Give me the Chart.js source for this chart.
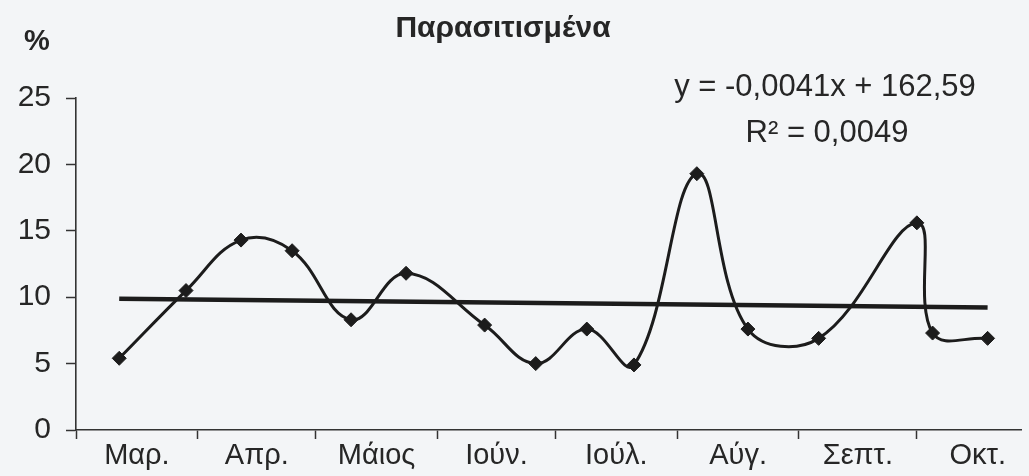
<!DOCTYPE html>
<html>
<head>
<meta charset="utf-8">
<script src="https://cdn.jsdelivr.net/npm/chart.js@4.4.1/dist/chart.umd.min.js"></script>
<style>
  html, body { margin: 0; padding: 0; background: #f3f5f7; }
  canvas { display: block; }
</style>
</head>
<body>
<canvas id="chart" width="1029" height="476"></canvas>
<script>
// Month names shown under the axis, and the day (counted from 1 March) on which each month starts
const monthNames = ['Μαρ.', 'Απρ.', 'Μάιος', 'Ιούν.', 'Ιούλ.', 'Αύγ.', 'Σεπτ.', 'Οκτ.'];
const monthStartDay = [0, 31, 61, 92, 122, 153, 184, 214, 245];

// Sampling dates (days from 1 March) and parasitised share in %
const sampleDay   = [11, 28, 42, 55, 70, 84, 104, 117, 130, 142, 158, 171, 189, 214, 218, 232];
const infestedPct = [5.4, 10.5, 14.3, 13.5, 8.3, 11.8, 7.9, 5.0, 7.6, 4.9, 19.3, 7.6, 6.9, 15.6, 7.3, 6.9];

// Value axis ticks
const yTickValues = [0, 5, 10, 15, 20, 25];

// Chart title and the regression text printed beside the trend line
const chartTitle = 'Παρασιτισμένα';
const trendText = ['y = -0,0041x + 162,59', 'R² = 0,0049'];

const FONT = '"Liberation Sans", Arial, Helvetica, sans-serif';
const INK = '#262626';

// Ordinary least squares fit of the samples
function linearFit(xs, ys) {
  const n = xs.length;
  const mx = xs.reduce((a, b) => a + b, 0) / n;
  const my = ys.reduce((a, b) => a + b, 0) / n;
  let sxy = 0, sxx = 0;
  for (let i = 0; i < n; i++) {
    sxy += (xs[i] - mx) * (ys[i] - my);
    sxx += (xs[i] - mx) * (xs[i] - mx);
  }
  const slope = sxy / sxx;
  return { slope, intercept: my - slope * mx };
}

const fit = linearFit(sampleDay, infestedPct);
const xFirst = sampleDay[0];
const xLast = sampleDay[sampleDay.length - 1];
const trendPoints = [
  { x: xFirst, y: fit.intercept + fit.slope * xFirst },
  { x: xLast,  y: fit.intercept + fit.slope * xLast }
];

const samplePoints = sampleDay.map((d, i) => ({ x: d, y: infestedPct[i] }));
const monthMid = monthNames.map((_, i) => (monthStartDay[i] + monthStartDay[i + 1]) / 2);

const X_MAX = 240.5;

// Text outside the axes: title, "%" unit and the regression equation
const annotations = {
  id: 'annotations',
  afterDraw(chart) {
    const { ctx, chartArea } = chart;
    ctx.save();
    ctx.fillStyle = INK;
    ctx.textBaseline = 'alphabetic';

    ctx.textAlign = 'center';
    ctx.font = 'bold 30px ' + FONT;
    ctx.fillText(chartTitle, 503, 37);

    ctx.textAlign = 'left';
    ctx.font = 'bold 29px ' + FONT;
    ctx.fillText('%', 24, 50);

    ctx.textAlign = 'center';
    ctx.font = '31px ' + FONT;
    const cx = chartArea.right - 196;
    ctx.fillText(trendText[0], cx, 96);
    ctx.fillText(trendText[1], cx + 2, 142);
    ctx.restore();
  }
};

new Chart(document.getElementById('chart'), {
  type: 'scatter',
  data: {
    datasets: [
      {
        label: chartTitle,
        data: samplePoints,
        showLine: true,
        tension: 0.4,
        borderColor: '#1c1c1c',
        borderWidth: 3,
        pointStyle: 'rectRot',
        pointRadius: 7,
        pointBackgroundColor: '#1c1c1c',
        pointBorderColor: '#1c1c1c',
        pointBorderWidth: 1,
        order: 1
      },
      {
        label: 'Γραμμική τάση',
        data: trendPoints,
        showLine: true,
        borderColor: '#1c1c1c',
        borderWidth: 4.5,
        pointRadius: 0,
        order: 2
      }
    ]
  },
  options: {
    responsive: false,
    animation: false,
    events: [],
    layout: { padding: { left: 0, right: 0, top: 98, bottom: 0 } },
    plugins: {
      legend: { display: false },
      tooltip: { enabled: false },
      title: { display: false }
    },
    scales: {
      x: {
        type: 'linear',
        min: 0,
        max: X_MAX,
        afterBuildTicks(scale) {
          const vals = monthStartDay.filter(v => v <= X_MAX).concat(monthMid);
          vals.sort((a, b) => a - b);
          scale.ticks = vals.map(v => ({ value: v }));
        },
        afterFit(scale) { scale.height = 46; },
        grid: {
          drawOnChartArea: false,
          drawTicks: true,
          tickLength: 9,
          tickWidth: 1.5,
          tickColor: ctx => (ctx.tick && monthStartDay.includes(ctx.tick.value)) ? '#333' : 'rgba(0,0,0,0)'
        },
        border: { display: true, color: '#333', width: 1.6 },
        ticks: {
          autoSkip: false,
          maxRotation: 0,
          padding: 0,
          color: INK,
          font: { family: FONT, size: 29 },
          callback(value) {
            const i = monthMid.indexOf(value);
            return i >= 0 ? monthNames[i] : '';
          }
        }
      },
      y: {
        min: 0,
        max: 25,
        afterBuildTicks(scale) {
          scale.ticks = yTickValues.map(v => ({ value: v }));
        },
        afterFit(scale) { scale.width = 76; },
        grid: {
          drawOnChartArea: false,
          drawTicks: true,
          tickLength: 10,
          tickWidth: 1.5,
          tickColor: '#333'
        },
        border: { display: true, color: '#333', width: 1.6 },
        ticks: {
          padding: 15,
          color: INK,
          font: { family: FONT, size: 30 }
        }
      }
    }
  },
  plugins: [annotations]
});
</script>
</body>
</html>
